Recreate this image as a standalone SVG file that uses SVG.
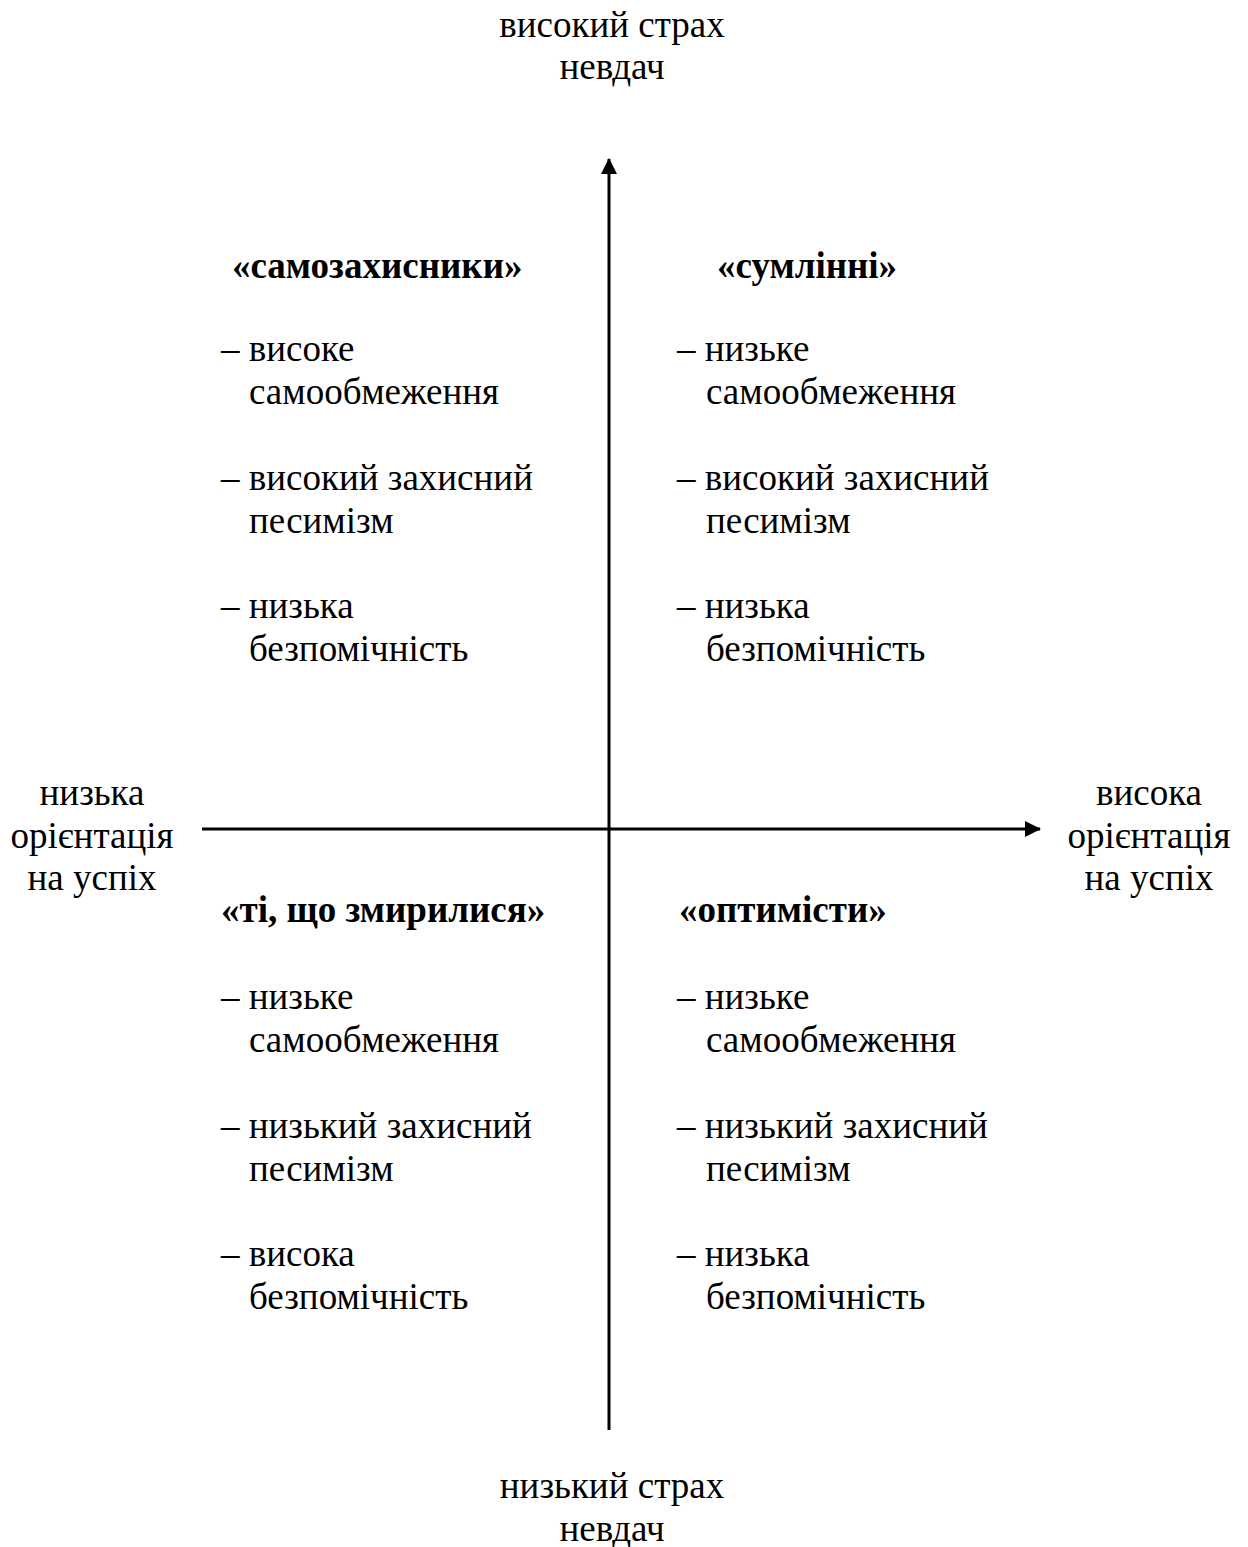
<svg xmlns="http://www.w3.org/2000/svg" width="1248" height="1547" viewBox="0 0 1248 1547">
<defs>
<style>
text{font-family:"Liberation Serif","Times New Roman",serif;font-size:37px;fill:#000}
.b{font-weight:bold}
.c{text-anchor:middle}
.ax{stroke:#000;stroke-width:3;fill:none}
</style>
<marker id="ah" viewBox="0 0 16 16" refX="15" refY="8" markerWidth="16" markerHeight="16" markerUnits="userSpaceOnUse" orient="auto">
<path d="M0,0 L16,8 L0,16 Z" fill="#000"/>
</marker>
</defs>
<rect width="1248" height="1547" fill="#fff"/>
<g id="connectors">
<line class="ax" x1="609" y1="1430" x2="609" y2="159" marker-end="url(#ah)"/>
<line class="ax" x1="202" y1="829" x2="1040" y2="829" marker-end="url(#ah)"/>
</g>
<g id="top-label"><text class="c" x="612" y="37">високий страх</text><text class="c" x="612" y="79">невдач</text></g>
<g id="bottom-label"><text class="c" x="612" y="1498">низький страх</text><text class="c" x="612" y="1541">невдач</text></g>
<g id="left-label"><text class="c" x="92" y="805">низька</text><text class="c" x="92" y="848">орієнтація</text><text class="c" x="92" y="890">на успіх</text></g>
<g id="right-label"><text class="c" x="1149" y="805">висока</text><text class="c" x="1149" y="848">орієнтація</text><text class="c" x="1149" y="890">на успіх</text></g>
<g id="q-self">
<text class="b" x="232" y="278">«самозахисники»</text>
<text x="221" y="361">– високе</text><text x="249" y="404">самообмеження</text>
<text x="221" y="490">– високий захисний</text><text x="249" y="533">песимізм</text>
<text x="221" y="618">– низька</text><text x="249" y="661">безпомічність</text>
</g>
<g id="q-consc">
<text class="b" x="717" y="278">«сумлінні»</text>
<text x="677" y="361">– низьке</text><text x="706" y="404">самообмеження</text>
<text x="677" y="490">– високий захисний</text><text x="706" y="533">песимізм</text>
<text x="677" y="618">– низька</text><text x="706" y="661">безпомічність</text>
</g>
<g id="q-resigned">
<text class="b" x="221" y="922">«ті, що змирилися»</text>
<text x="221" y="1009">– низьке</text><text x="249" y="1052">самообмеження</text>
<text x="221" y="1138">– низький захисний</text><text x="249" y="1181">песимізм</text>
<text x="221" y="1266">– висока</text><text x="249" y="1309">безпомічність</text>
</g>
<g id="q-optim">
<text class="b" x="679" y="922">«оптимісти»</text>
<text x="677" y="1009">– низьке</text><text x="706" y="1052">самообмеження</text>
<text x="677" y="1138">– низький захисний</text><text x="706" y="1181">песимізм</text>
<text x="677" y="1266">– низька</text><text x="706" y="1309">безпомічність</text>
</g>
</svg>
